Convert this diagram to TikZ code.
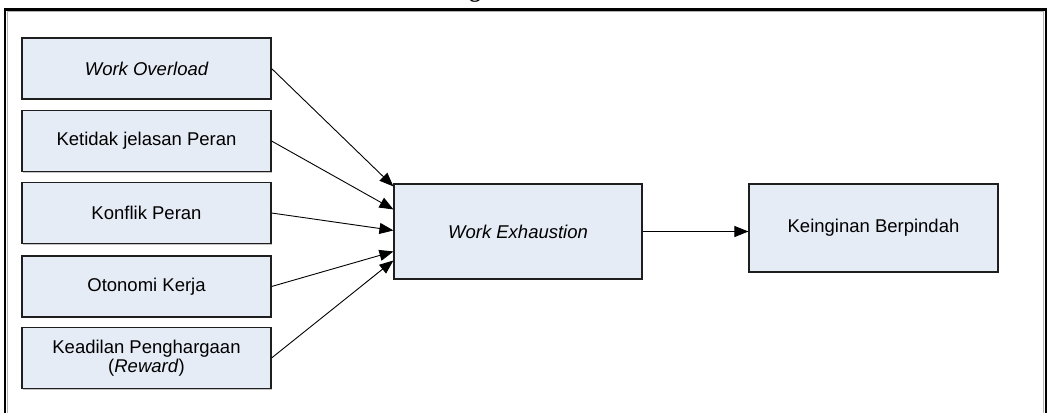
\documentclass[tikz,border=0pt]{standalone}
\usepackage{fontspec}
\setmainfont{Liberation Sans}
\newfontfamily\titlefont{Liberation Serif}
\usetikzlibrary{arrows.meta,calc,shadows}
\definecolor{boxfill}{RGB}{230,236,246}
\definecolor{boxline}{RGB}{30,30,30}
\tikzset{
  factor/.style={draw=boxline, line width=1.1pt, fill=boxfill,
    minimum width=249pt, minimum height=61pt, inner sep=2pt,
    align=center, font=\fontsize{18.5}{19.5}\selectfont,
    drop shadow={shadow xshift=1pt, shadow yshift=-1.2pt, opacity=0.45, fill=gray}},
  link/.style={line width=0.9pt, -{Triangle[length=14pt,width=11pt]}},
  frameline/.style={line width=2.6pt, black}
}
\begin{document}
\begin{tikzpicture}[x=1pt,y=-1pt]
\useasboundingbox (0,0) rectangle (1048,412);
\fill[white] (0,0) rectangle (1048,412);

% title line above the frame: only its descender falls on the page
\begin{scope}
  \clip (0,0) rectangle (1048,412);
  \node[anchor=base, inner sep=0pt, font=\titlefont\bfseries\fontsize{22}{24}\selectfont] (title) at (475,-2) {g};
\end{scope}

% open frame around the model
\draw[gray!60, line width=0.8pt] (7.5,420) -- (7.5,11.8) -- (1043.5,11.8) -- (1043.5,420);
\draw[frameline] (5,420) -- (5,9.5) -- (1046,9.5) -- (1046,420);

% independent variables
\node[factor] (b1) at (146.5,68.5) {\itshape Work Overload};
\node[factor] (b2) at (146.5,141) {Ketidak jelasan Peran};
\node[factor] (b3) at (146.5,213) {Konflik Peran};
\node[factor] (b4) at (146.5,286.5) {Otonomi Kerja};
\node[factor] (b5) at (146.5,358) {Keadilan Penghargaan\\(\textit{Reward})};

% mediator and outcome
\node[factor, minimum width=248pt, minimum height=95pt] (we) at (518,231.5) {\itshape Work Exhaustion};
\node[factor, minimum height=88pt] (kb) at (873.5,228) {Keinginan Berpindah};

% arrow end points on the left side of the mediator
\coordinate (t1) at ($(we.north west)+(0,3)$);
\coordinate (t2) at ($(we.north west)+(0,26)$);
\coordinate (t3) at ($(we.north west)+(0,47)$);
\coordinate (t4) at ($(we.north west)+(0,68)$);
\coordinate (t5) at ($(we.north west)+(0,77)$);

\draw[link] (b1.east) -- (t1);
\draw[link] (b2.east) -- (t2);
\draw[link] (b3.east) -- (t3);
\draw[link] (b4.east) -- (t4);
\draw[link] (b5.east) -- (t5);
\draw[link] (we.east) -- (we.east -| kb.west);
\end{tikzpicture}
\end{document}
